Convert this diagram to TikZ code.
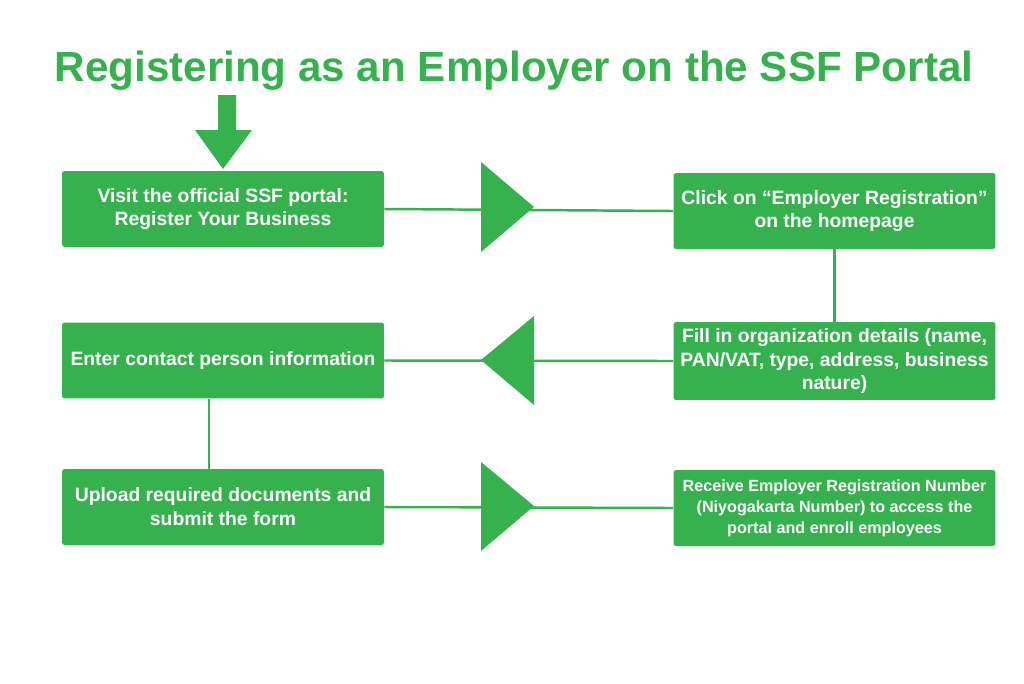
\documentclass[tikz,border=0pt]{standalone}
\usepackage{fontspec}
\setmainfont{Liberation Sans}
\usetikzlibrary{positioning}
\definecolor{ssfgreen}{RGB}{53,178,78}
\tikzset{
  stepbox/.style={fill=ssfgreen, rounded corners=1.5pt, text=white,
    font=\bfseries\fontsize{11}{13.6}\selectfont, align=center,
    minimum width=6.44cm, minimum height=1.52cm, inner sep=0pt},
  flow/.style={draw=ssfgreen, line width=1.4pt},
  bigtip/.style={fill=ssfgreen}
}

\begin{document}
\begin{tikzpicture}[x=0.02cm,y=-0.02cm]
\useasboundingbox[fill=white] (0,0) rectangle (1024,683);
% title and entry arrow
\node[text=ssfgreen, font=\bfseries\fontsize{24}{28}\selectfont] (title) at (514,71) {Registering as an Employer on the SSF Portal};
\fill[bigtip] (218,95) -- (236,95) -- (236,130) -- (252,130) -- (223,169) -- (195,130) -- (218,130) -- cycle;
% steps
\node[stepbox] (visit) at (223,209) {Visit the official SSF portal:\\Register Your Business};
\node[stepbox] (click) at (834.5,211) {Click on “Employer Registration”\\on the homepage};
\node[stepbox, minimum height=1.56cm] (fill) at (834.5,361) {Fill in organization details (name,\\PAN/VAT, type, address, business\\nature)};
\node[stepbox] (contact) at (223,360.5) {Enter contact person information};
\node[stepbox] (upload) at (223,507) {Upload required documents and\\submit the form};
\node[stepbox, font=\bfseries\fontsize{9.2}{11.9}\selectfont] (receive) at (834.5,508) {Receive Employer Registration Number\\(Niyogakarta Number) to access the\\portal and enroll employees};
% connectors
\draw[flow] (visit.east) -- (click.west);
\draw[flow] (click.south) -- (fill.north);
\draw[flow] (fill.west) -- (contact.east);
\draw[flow] ([xshift=-0.28cm]contact.south) -- ([xshift=-0.28cm]upload.north);
\draw[flow] (upload.east) -- (receive.west);
% big triangles
\fill[bigtip] (481,162) -- (534,207) -- (481,252) -- cycle;
\fill[bigtip] (534,316) -- (481,360) -- (534,405) -- cycle;
\fill[bigtip] (481,462) -- (534,506) -- (481,551) -- cycle;
\end{tikzpicture}
\end{document}
